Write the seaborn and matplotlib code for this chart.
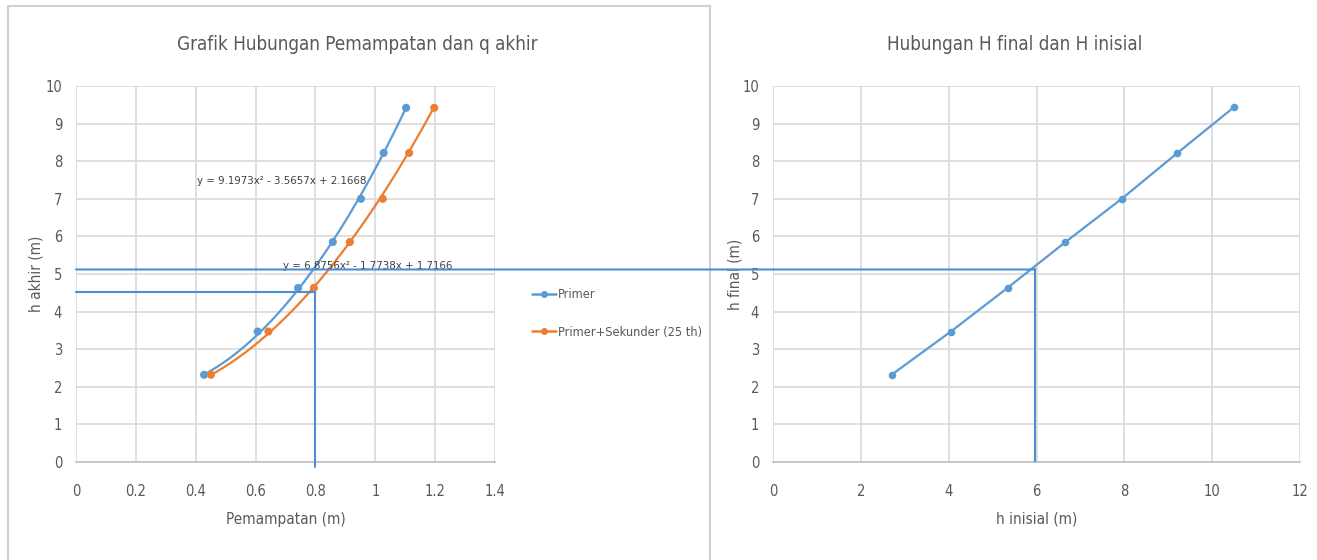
import numpy as np
import pandas as pd
import matplotlib
matplotlib.use("Agg")
import matplotlib.pyplot as plt
from matplotlib.patches import ConnectionPatch, Rectangle
from matplotlib.lines import Line2D
import seaborn as sns

# ---- data ----
h_akhir = [2.32, 3.47, 4.63, 5.85, 7.00, 8.22, 9.42]
pemampatan_primer = [0.428, 0.607, 0.742, 0.858, 0.952, 1.028, 1.103]
pemampatan_sekunder = [0.451, 0.643, 0.795, 0.915, 1.025, 1.113, 1.197]

# polynomial trendlines (a, b, c) for y = a x^2 + b x + c
coef_primer = [9.1973, -3.5657, 2.1668]
coef_sekunder = [6.8756, -1.7738, 1.7166]

h_inisial = [2.70, 4.05, 5.34, 6.66, 7.94, 9.21, 10.50]
h_final = [2.32, 3.47, 4.63, 5.85, 7.00, 8.22, 9.44]

# design reading: q akhir level and the matching settlement / initial height
h_design = 5.12
h_read_left = 4.52
s_read = 0.80
h_inisial_read = 5.97

series_names = ["Primer", "Primer+Sekunder (25 th)"]
xticks_left = [0, 0.2, 0.4, 0.6, 0.8, 1, 1.2, 1.4]
xticks_right = [0, 2, 4, 6, 8, 10, 12]
yticks = list(range(0, 11))

BLUE = "#5B9BD5"
ORANGE = "#ED7D31"
REF = "#4A8FD6"
GRID = "#D9D9D9"
TXT = "#595959"

sns.set_theme(style="white")
plt.rcParams["font.family"] = ["DejaVu Sans", "Liberation Sans"]
plt.rcParams["font.stretch"] = "condensed"

fig = plt.figure(figsize=(13.17, 5.6), dpi=100)
fig.patch.set_facecolor("white")

# left chart frame
fig.patches.append(Rectangle((8 / 1317, -0.01), (710 - 8) / 1317, 1 - 6 / 560 + 0.01,
                             transform=fig.transFigure, fill=False,
                             edgecolor="#D0D0D0", linewidth=1.5, zorder=0))

ax1 = fig.add_axes([76 / 1317, (560 - 462) / 560, 419 / 1317, 376 / 560])
ax2 = fig.add_axes([773 / 1317, (560 - 462) / 560, 527 / 1317, 376 / 560])


def style_axes(ax, xticks):
    ax.set_xlim(xticks[0], xticks[-1])
    ax.set_ylim(0, 10)
    ax.set_xticks(xticks)
    ax.set_yticks(yticks)
    ax.grid(True, color=GRID, linewidth=1.2)
    for side in ["top", "right", "left"]:
        ax.spines[side].set_visible(False)
    ax.spines["bottom"].set_color("#BFBFBF")
    ax.spines["bottom"].set_linewidth(1.2)
    ax.tick_params(axis="both", length=0, colors=TXT, labelsize=10.5)
    ax.tick_params(axis="x", pad=16)
    ax.tick_params(axis="y", pad=10)
    ax.set_axisbelow(True)


style_axes(ax1, xticks_left)
style_axes(ax2, xticks_right)
ax1.set_xticklabels([f"{t:g}" for t in xticks_left])

# ---- left chart: settlement vs h akhir ----
df_left = pd.DataFrame({
    "s": pemampatan_primer + pemampatan_sekunder,
    "h": h_akhir + h_akhir,
    "seri": [series_names[0]] * len(h_akhir) + [series_names[1]] * len(h_akhir),
})
palette = {series_names[0]: BLUE, series_names[1]: ORANGE}

for name, xs, coef in [(series_names[0], pemampatan_primer, coef_primer),
                       (series_names[1], pemampatan_sekunder, coef_sekunder)]:
    xx = np.linspace(min(xs), max(xs), 200)
    curve = pd.DataFrame({"s": xx, "h": np.polyval(coef, xx)})
    sns.lineplot(data=curve, x="s", y="h", ax=ax1, color=palette[name],
                 linewidth=1.6, sort=False, legend=False, zorder=3)

sns.scatterplot(data=df_left, x="s", y="h", hue="seri", palette=palette, ax=ax1,
                s=34, marker="o", edgecolor="none", legend=False, zorder=4)

ax1.set_xlabel("Pemampatan (m)", color=TXT, fontsize=11, labelpad=9)
ax1.set_ylabel("h akhir (m)", color=TXT, fontsize=11, labelpad=1)
fig.text(357 / 1317, 1 - 44 / 560, "Grafik Hubungan Pemampatan dan q akhir",
         color=TXT, fontsize=13.5, ha="center", va="center")


def eq_text(c):
    return f"y = {c[0]:.4f}x² - {abs(c[1]):.4f}x + {c[2]:.4f}"


ax1.text(0.405, 7.47, eq_text(coef_primer), fontsize=8.2, color="#404040",
         ha="left", va="center", zorder=5)
ax1.text(0.69, 5.22, eq_text(coef_sekunder), fontsize=8.2, color="#404040",
         ha="left", va="center", zorder=5)

# reading lines on the left chart
ax1.plot([0, s_read, s_read], [h_read_left, h_read_left, -0.12], color=REF,
         linewidth=1.5, zorder=6, clip_on=False)

handles = [Line2D([0], [0], color=BLUE, marker="o", markersize=4, linewidth=1.8),
           Line2D([0], [0], color=ORANGE, marker="o", markersize=4, linewidth=1.8)]
fig.legend(handles, series_names, loc="upper left",
           bbox_to_anchor=(520 / 1317, 1 - 277 / 560), frameon=False,
           fontsize=9.2, labelcolor=TXT, handlelength=1.9, handletextpad=0.2,
           labelspacing=1.9)

# ---- right chart: h inisial vs h final ----
df_right = pd.DataFrame({"hi": h_inisial, "hf": h_final})
sns.lineplot(data=df_right, x="hi", y="hf", ax=ax2, color=BLUE, linewidth=1.6,
             marker="o", markersize=5.5, markeredgewidth=0, zorder=4)

ax2.set_xlabel("h inisial (m)", color=TXT, fontsize=11, labelpad=9)
ax2.set_ylabel("h final (m)", color=TXT, fontsize=11, labelpad=0)
fig.text(1015 / 1317, 1 - 44 / 560, "Hubungan H final dan H inisial",
         color=TXT, fontsize=13.5, ha="center", va="center")

ax2.plot([h_inisial_read, h_inisial_read], [h_design, 0], color=REF,
         linewidth=1.5, zorder=6)

# long horizontal reading line across both charts
con = ConnectionPatch(xyA=(0, h_design), coordsA=ax1.transData,
                      xyB=(h_inisial_read, h_design), coordsB=ax2.transData,
                      color=REF, linewidth=1.5, zorder=10)
fig.add_artist(con)

fig.savefig("out.png", dpi=100, facecolor="white")
